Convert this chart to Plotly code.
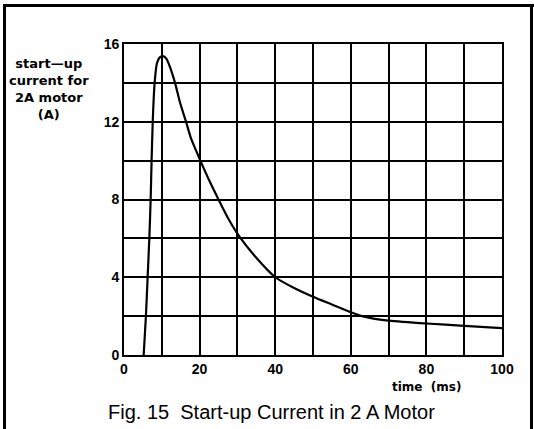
import plotly.graph_objects as go

# Data
time_ms = [5.2, 5.8, 6.25, 6.7, 7.05, 7.3, 7.6, 8.1, 8.7, 9.4, 10.3, 11.2, 12.2, 13.5, 14.8,
           16.4, 17.8, 19.1, 20.2, 22.5, 25.0, 27.5, 30.5, 35.0, 40.0, 45.0, 50.0, 55.0,
           60.0, 63.0, 66.0, 70.0, 80.0, 90.0, 100.0]
current_a = [0.0, 2.0, 4.0, 6.0, 8.0, 10.0, 12.0, 14.0, 15.0, 15.3, 15.38, 15.25, 14.8, 14.0, 13.0,
             12.0, 11.1, 10.5, 10.0, 9.0, 8.0, 7.05, 6.1, 5.0, 4.0, 3.45, 3.0, 2.6,
             2.2, 2.0, 1.87, 1.77, 1.62, 1.5, 1.38]

x_ticks = [0, 20, 40, 60, 80, 100]
y_ticks = [0, 4, 8, 12, 16]

W, H = 534, 429
L, R, T, B = 124, 32, 44, 74
PW, PH = W - L - R, H - T - B

def px(x):
    return (x - L) / PW

def py(y):
    return (H - B - y) / PH

fig = go.Figure()
fig.add_trace(go.Scatter(
    x=time_ms, y=current_a, mode="lines",
    line=dict(color="black", width=2.2, shape="spline", smoothing=0.6),
    showlegend=False, hoverinfo="skip"))

tickfont = dict(family="Arial", size=14, color="black", weight="bold")

fig.update_xaxes(
    range=[0, 100], tickvals=x_ticks, ticktext=[str(v) for v in x_ticks],
    showgrid=True, gridcolor="black", gridwidth=1.6,
    minor=dict(dtick=10, showgrid=True, gridcolor="black", gridwidth=1.6, ticks=""),
    showline=True, linecolor="black", linewidth=1.6, mirror=True,
    ticks="", tickfont=tickfont, zeroline=False, fixedrange=True,
)
fig.update_yaxes(
    range=[0, 16], tickvals=y_ticks, ticktext=[str(v) for v in y_ticks],
    showgrid=True, gridcolor="black", gridwidth=1.6,
    minor=dict(dtick=2, showgrid=True, gridcolor="black", gridwidth=1.6, ticks=""),
    showline=True, linecolor="black", linewidth=1.6, mirror=True,
    ticks="", tickfont=tickfont, zeroline=False, fixedrange=True,
)

annotations = [
    dict(text="start—up<br>current for<br>2A motor<br>(A)", x=px(49), y=py(89),
         xref="paper", yref="paper", showarrow=False, align="center",
         font=dict(family="DejaVu Sans", size=13, color="black", weight="bold"),
         xanchor="center", yanchor="middle"),
    dict(text="time  (ms)", x=px(426), y=py(387), xref="paper", yref="paper",
         showarrow=False, xanchor="center", yanchor="middle",
         font=dict(family="DejaVu Sans", size=12, color="black", weight="bold")),
    dict(text="Fig. 15  Start-up Current in 2 A Motor", x=px(271), y=py(412),
         xref="paper", yref="paper", showarrow=False, xanchor="center", yanchor="middle",
         font=dict(family="Liberation Sans", size=20, color="black")),
]

shapes = [
    dict(type="line", xref="paper", yref="paper", x0=px(3.5), x1=px(534), y0=py(5.5), y1=py(5.5),
         line=dict(color="black", width=3)),
    dict(type="line", xref="paper", yref="paper", x0=px(4.5), x1=px(4.5), y0=py(4), y1=py(440),
         line=dict(color="black", width=3)),
    dict(type="line", xref="paper", yref="paper", x0=px(531.5), x1=px(531.5), y0=py(4), y1=py(440),
         line=dict(color="black", width=3)),
]

fig.update_layout(
    width=W, height=H,
    margin=dict(l=L, r=R, t=T, b=B, pad=0),
    paper_bgcolor="white", plot_bgcolor="white",
    annotations=annotations, shapes=shapes,
)

fig.write_html("out.html", config={"displayModeBar": False},
               post_script="document.body.style.margin='0';document.body.style.overflow='hidden';")
